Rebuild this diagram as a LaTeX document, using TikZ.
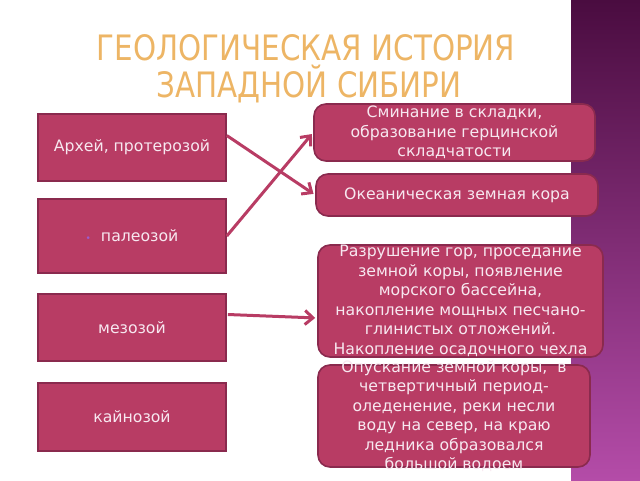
\documentclass[tikz,border=0pt]{standalone}
\usepackage{fontspec}
\setmainfont{DejaVu Sans}
\usetikzlibrary{arrows.meta}
\definecolor{boxfill}{HTML}{B83C64}
\definecolor{boxline}{HTML}{8A2A4E}
\definecolor{boxtext}{HTML}{F7E8F0}
\definecolor{titlec}{HTML}{EDB565}
\definecolor{bandtop}{HTML}{4A0C40}
\definecolor{bandbot}{HTML}{B44CA8}
\definecolor{dotc}{HTML}{9A5CD0}
\begin{document}
\begin{tikzpicture}[x=1pt,y=-1pt,
    era/.style={draw=boxline,line width=1.6pt,fill=boxfill,minimum width=188pt,inner sep=0pt},
    event/.style={draw=boxline,line width=1.6pt,fill=boxfill,rounded corners=12pt,inner sep=0pt},
    eventtext/.style={text=boxtext,align=center,font=\fontsize{15.7}{19.5}\selectfont},
    link/.style={draw=boxfill,line width=3pt,-{Straight Barb[length=8pt,width=14pt]}}]
  \useasboundingbox (0,0) rectangle (640,480);
  % background band
  \shade[top color=bandtop,bottom color=bandbot] (571,0) rectangle (640,480);
  % title
  \node[text=titlec,font=\fontsize{35}{37}\selectfont] (title1) at (306,48)
    {\scalebox{0.84}[1]{ГЕОЛОГИЧЕСКАЯ ИСТОРИЯ}};
  \node[text=titlec,font=\fontsize{35}{37}\selectfont] (title2) at (309,84)
    {\scalebox{0.84}[1]{ЗАПАДНОЙ СИБИРИ}};
  % eras
  \node[era,minimum height=67pt] (archaean) at (132,147.5) {};
  \node[era,minimum height=74pt] (paleozoic) at (132,236) {};
  \node[era,minimum height=67pt] (mesozoic) at (132,327.5) {};
  \node[era,minimum height=68pt] (cenozoic) at (132,417) {};
  \node[eventtext] at (archaean.center) {Архей, протерозой};
  \node[eventtext] at (paleozoic.center) {{\color{dotc}\fontsize{9}{9}\selectfont\textbullet}\hspace{10pt}палеозой};
  \node[eventtext] at (mesozoic.center) {мезозой};
  \node[eventtext] at (cenozoic.center) {кайнозой};
  % events
  \node[event,minimum width=281pt,minimum height=57pt] (folding) at (454.5,132.5) {};
  \node[event,minimum width=282pt,minimum height=42pt] (ocean) at (457,195) {};
  \node[event,minimum width=285pt,minimum height=112pt] (basin) at (460.5,301) {};
  \node[event,minimum width=272pt,minimum height=102pt] (glacier) at (454,416) {};
  \node[eventtext] at (folding.center) {Сминание в складки,\\образование герцинской\\складчатости};
  \node[eventtext] at (ocean.center) {Океаническая земная кора};
  \node[eventtext] at (basin.center) {Разрушение гор, проседание\\земной коры, появление\\морского бассейна,\\накопление мощных песчано-\\глинистых отложений.\\Накопление осадочного чехла};
  \node[eventtext] at (glacier.center) {Опускание земной коры,~ в\\четвертичный период-\\оледенение, реки несли\\воду на север, на краю\\ледника образовался\\большой водоем};
  % links
  \begin{scope}[shorten >=2pt]
    \draw[link] (archaean.east) ++(0,-12) -- (ocean.west);
    \draw[link] (paleozoic.east) -- (folding.west);
    \draw[link] (mesozoic.east) ++(1,-13) -- ([yshift=-17pt]basin.west);
  \end{scope}
\end{tikzpicture}
\end{document}
